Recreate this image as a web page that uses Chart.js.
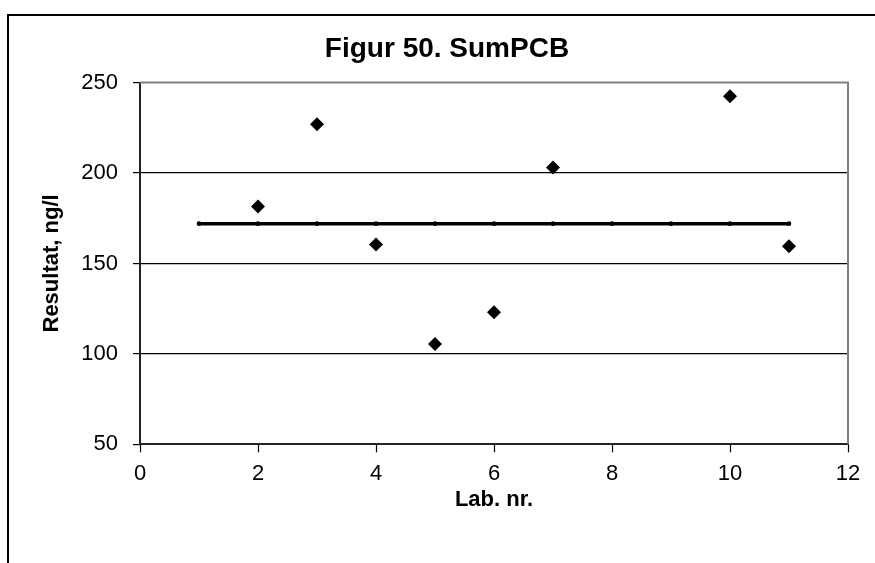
<!DOCTYPE html>
<html>
<head>
<meta charset="utf-8">
<script src="https://cdn.jsdelivr.net/npm/chart.js@4/dist/chart.umd.min.js"></script>
<style>
  html, body { margin: 0; padding: 0; background: #fff; }
  #wrap { position: relative; width: 875px; height: 563px; }
  canvas { display: block; }
</style>
</head>
<body>
<div id="wrap"><canvas id="c" width="875" height="563"></canvas></div>
<script>
// ---- data ----
const labNr = [2, 3, 4, 5, 6, 7, 10, 11];
const results = [181.5, 227, 160.5, 105.5, 123, 203, 242.5, 159.5];
const refLabs = [1, 2, 3, 4, 5, 6, 7, 8, 9, 10, 11];
const refValue = [172, 172, 172, 172, 172, 172, 172, 172, 172, 172, 172];
const xTicks = [0, 2, 4, 6, 8, 10, 12];
const yTicks = [50, 100, 150, 200, 250];
const titleText = 'Figur 50. SumPCB';
const xTitle = 'Lab. nr.';
const yTitle = 'Resultat, ng/l';

const FONT = "'Liberation Sans', Arial, Helvetica, sans-serif";

const framePlugin = {
  id: 'frame',
  beforeDraw(chart) {
    const ctx = chart.ctx;
    ctx.save();
    ctx.strokeStyle = '#000';
    ctx.lineWidth = 2;
    ctx.beginPath();
    ctx.moveTo(8, 563);
    ctx.lineTo(8, 15);
    ctx.lineTo(875, 15);
    ctx.stroke();
    ctx.restore();
  },
  beforeDatasetsDraw(chart) {
    const a = chart.chartArea;
    const ctx = chart.ctx;
    ctx.save();
    ctx.strokeStyle = '#808080';
    ctx.lineWidth = 2;
    ctx.beginPath();
    ctx.moveTo(a.left, a.top);
    ctx.lineTo(a.right, a.top);
    ctx.lineTo(a.right, a.bottom);
    ctx.stroke();
    ctx.restore();
  }
};

new Chart(document.getElementById('c'), {
  type: 'scatter',
  data: {
    datasets: [
      {
        label: 'Resultat',
        data: labNr.map((x, i) => ({ x: x, y: results[i] })),
        pointStyle: 'rectRot',
        pointRadius: 7,
        pointBackgroundColor: '#000',
        pointBorderColor: '#000',
        pointBorderWidth: 0,
        showLine: false,
        order: 1
      },
      {
        label: 'Median',
        data: refLabs.map((x, i) => ({ x: x, y: refValue[i] })),
        showLine: true,
        borderColor: '#000',
        borderWidth: 3.5,
        pointStyle: 'circle',
        pointRadius: 2.3,
        pointBackgroundColor: '#000',
        pointBorderWidth: 0,
        order: 2
      }
    ]
  },
  options: {
    responsive: false,
    animation: false,
    events: [],
    layout: { padding: { left: 46, right: 27, top: 0, bottom: 0 } },
    plugins: {
      legend: { display: false },
      tooltip: { enabled: false },
      title: {
        display: true,
        text: titleText,
        color: '#000',
        font: { family: FONT, size: 28, weight: 'bold', lineHeight: 1.2 },
        padding: { top: 32, bottom: 17 }
      }
    },
    scales: {
      x: {
        type: 'linear',
        min: 0, max: 12,
        afterBuildTicks(scale) { scale.ticks = xTicks.map(v => ({ value: v })); },
        afterFit(scale) { scale.height = 563 - 444.3; },
        ticks: {
          color: '#000',
          font: { family: FONT, size: 22 },
          padding: 8,
          maxRotation: 0
        },
        grid: {
          drawOnChartArea: false,
          drawTicks: true,
          tickLength: 8,
          tickColor: '#000',
          tickWidth: 1.2
        },
        border: { color: '#222', width: 2 },
        title: {
          display: true,
          text: xTitle,
          color: '#000',
          font: { family: FONT, size: 22, weight: 'bold', lineHeight: 1.2 },
          padding: { top: 0, bottom: 50 }
        }
      },
      y: {
        type: 'linear',
        min: 50, max: 250,
        afterBuildTicks(scale) { scale.ticks = yTicks.map(v => ({ value: v })); },
        afterFit(scale) { scale.width = 94; },
        ticks: {
          color: '#000',
          font: { family: FONT, size: 22 },
          padding: 15
        },
        grid: {
          drawOnChartArea: true,
          drawTicks: true,
          tickLength: 7,
          tickColor: '#000',
          color: (c) => (c.tick && (c.tick.value === 250 || c.tick.value === 50)) ? 'rgba(0,0,0,0)' : '#000',
          lineWidth: 1.2
        },
        border: { color: '#222', width: 2 },
        title: {
          display: true,
          text: yTitle,
          color: '#000',
          font: { family: FONT, size: 22, weight: 'bold', lineHeight: 1.2 },
          padding: { top: -7, bottom: 0 }
        }
      }
    }
  },
  plugins: [framePlugin]
});
</script>
</body>
</html>
